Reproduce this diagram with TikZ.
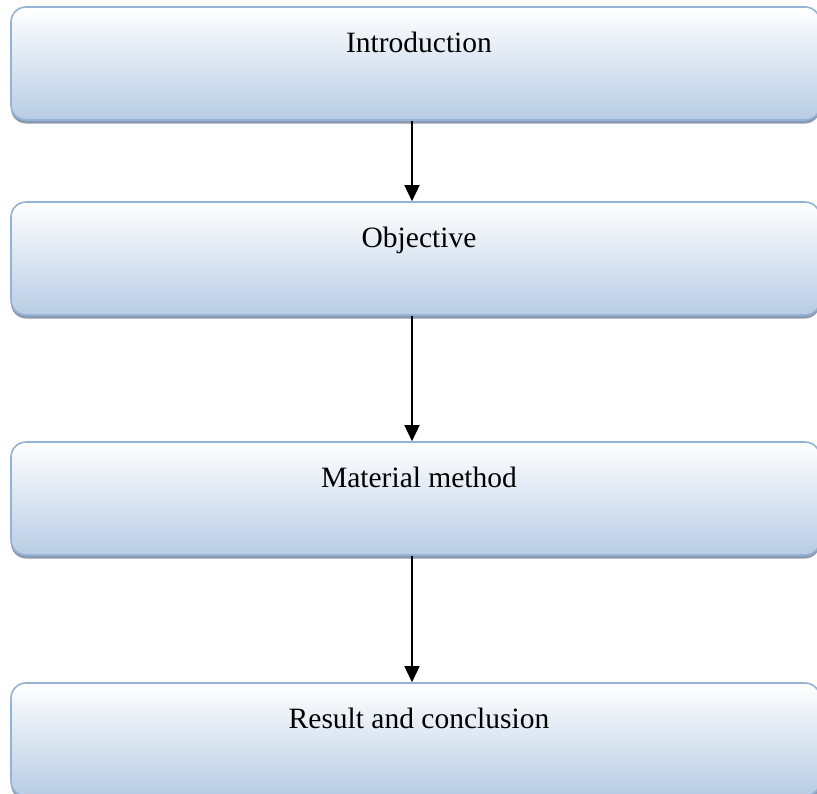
\documentclass[tikz,border=0pt]{standalone}
\usepackage{fontspec}
\setmainfont{Liberation Serif}
\usetikzlibrary{arrows.meta,shadows}
\definecolor{edgeblue}{RGB}{149,179,215}
\definecolor{fillblue}{RGB}{184,204,228}
\definecolor{shadegray}{RGB}{140,154,176}
\tikzset{%
	stage/.style = {draw=edgeblue, line width=1.6pt, rectangle, rounded corners=15pt,
		top color=white, bottom color=fillblue, inner sep=0pt,
		minimum width=809pt, text height=45pt, text depth=68pt,
		font=\fontsize{29.5}{34}\selectfont,
		execute at begin node={\hspace*{7pt}}, % text sits a bit right of centre
		drop shadow={shadow xshift=0pt, shadow yshift=-3.5pt, fill=shadegray, opacity=1}},
	flow/.style  = {line width=1.6pt, -{Triangle[length=16pt,width=15pt]}}
}

\begin{document}
\begin{tikzpicture}[x=1pt,y=-1pt]
			\useasboundingbox (0,0) rectangle (817,793);

			\node[stage] (intro) at (415.5,63.5) {Introduction};
			\node[stage] (obj) at (415.5,258.5) {Objective};
			\node[stage] (method) at (415.5,498.5) {Material method};
			\node[stage] (result) at (415.5,739.5) {Result and conclusion};

			\draw[flow] ([xshift=-3.5pt]intro.south) -- ([xshift=-3.5pt]obj.north);
			\draw[flow] ([xshift=-3.5pt]obj.south) -- ([xshift=-3.5pt]method.north);
			\draw[flow] ([xshift=-3.5pt]method.south) -- ([xshift=-3.5pt]result.north);
		\end{tikzpicture}
\end{document}
